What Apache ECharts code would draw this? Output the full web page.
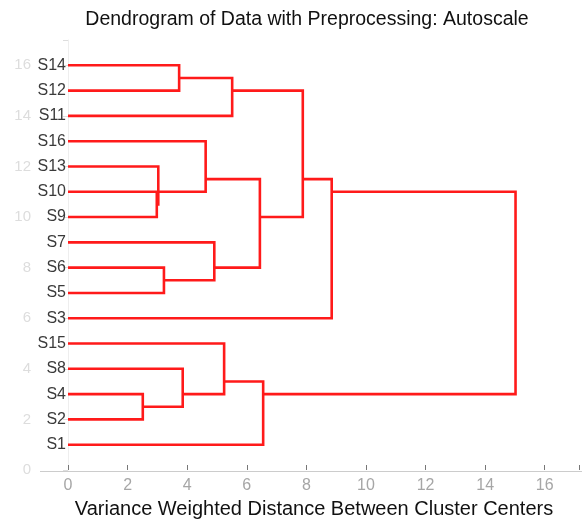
<!DOCTYPE html>
<html>
<head>
<meta charset="utf-8">
<script src="https://cdn.jsdelivr.net/npm/echarts@6/dist/echarts.min.js"></script>
<style>html,body{margin:0;padding:0;background:#fff;}#chart{width:582px;height:521px;}</style>
</head>
<body>
<div id="chart"></div>
<script>
// Leaf order from bottom (position 1) to top (position 16)
var leaves = ['S1','S2','S4','S8','S15','S3','S5','S6','S7','S9','S10','S13','S16','S11','S12','S14'];
// Merges: cluster C1..C15 created in order
var mergeA = ['S4','S8','S15','S1','S14','S11','S10','S13','S16','S6','S7','C9','C6','C13','C14'];
var mergeB = ['S2','C1','C2','C3','S12','C5','S9','C7','C8','S5','C10','C11','C12','S3','C4'];
var mergeHeight = [2.51,3.85,5.24,6.55,3.73,5.51,2.98,3.03,4.62,3.22,4.91,6.44,7.88,8.85,15.02];
var xTicks = [0,2,4,6,8,10,12,14,16];
var yTicks = [0,2,4,6,8,10,12,14,16];

var FONT = 'Liberation Sans, Arial, sans-serif';

// compute node positions (mean of leaf positions) and heights
var nodes = {};
leaves.forEach(function(n, i){ nodes[n] = {pos: i + 1, h: 0, members: [i + 1]}; });
var segs = [];
for (var k = 0; k < mergeA.length; k++) {
  var a = nodes[mergeA[k]], b = nodes[mergeB[k]], h = mergeHeight[k];
  segs.push({coords: [[a.h, a.pos], [h, a.pos], [h, b.pos], [b.h, b.pos]]});
  var mem = a.members.concat(b.members);
  var mean = mem.reduce(function(s, v){ return s + v; }, 0) / mem.length;
  nodes['C' + (k + 1)] = {pos: mean, h: h, members: mem};
}

var chart = echarts.init(document.getElementById('chart'), null, {renderer: 'canvas'});
chart.setOption({
  animation: false,
  backgroundColor: '#ffffff',
  grid: {left: 68, right: 0, top: 40, bottom: 51, containLabel: false},
  xAxis: {
    type: 'value', min: 0, max: 17.15, interval: 2,
    axisLine: {show: false},
    axisTick: {show: true, inside: true, length: 5, lineStyle: {color: '#777'}},
    splitLine: {show: false},
    axisLabel: {
      color: '#a6a6a6', fontSize: 16, fontFamily: FONT, margin: 8,
      formatter: function(v){ return xTicks.indexOf(v) >= 0 ? String(v) : ''; }
    }
  },
  yAxis: [{
    type: 'value', min: 0, max: 17, interval: 2, offset: 31,
    axisLine: {show: true, lineStyle: {color: '#eeeeee'}},
    axisTick: {show: true, length: 5, lineStyle: {color: '#dddddd'}},
    splitLine: {show: false},
    axisLabel: {
      color: '#dddddd', fontSize: 15, fontFamily: FONT, margin: 6,
      formatter: function(v){ return yTicks.indexOf(v) >= 0 ? String(v) : ''; }
    }
  }, {
    type: 'value', min: 0, max: 17, interval: 1, position: 'left', offset: 0,
    axisLine: {show: false}, axisTick: {show: false}, splitLine: {show: false},
    axisLabel: {
      color: '#3a3a3a', fontSize: 16, fontFamily: FONT, margin: 2,
      formatter: function(v){ return (v >= 1 && v <= leaves.length) ? leaves[v - 1] : ''; }
    }
  }],
  graphic: [
    {type: 'line', shape: {x1: 40, y1: 471.5, x2: 582, y2: 471.5}, style: {stroke: '#cccccc', lineWidth: 1}, z: 0},
    {type: 'text', x: 307, y: 20, style: {text: 'Dendrogram of Data with Preprocessing: Autoscale', font: '19.5px ' + FONT, fill: '#111111', textAlign: 'center', textVerticalAlign: 'middle'}},
    {type: 'text', x: 314, y: 509, style: {text: 'Variance Weighted Distance Between Cluster Centers', font: '20px ' + FONT, fill: '#111111', textAlign: 'center', textVerticalAlign: 'middle'}}
  ],
  series: [{
    type: 'lines',
    coordinateSystem: 'cartesian2d',
    polyline: true,
    silent: true,
    lineStyle: {color: '#ff1a1a', width: 2.6, opacity: 1, join: 'miter'},
    data: segs
  }]
});
</script>
</body>
</html>
